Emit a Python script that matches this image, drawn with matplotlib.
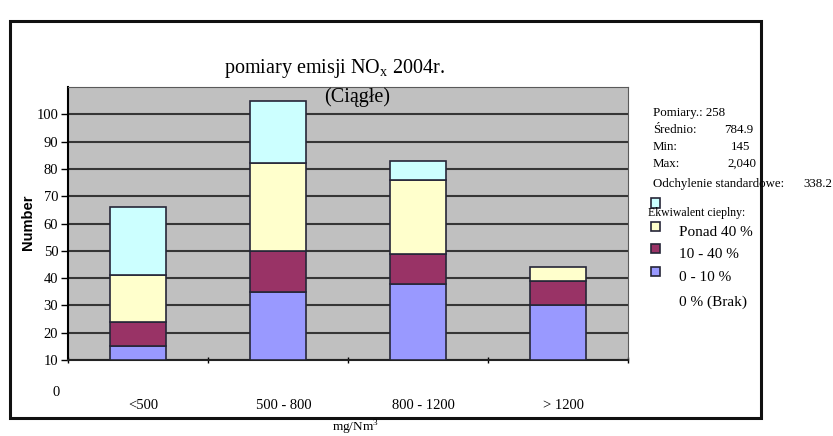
import matplotlib
matplotlib.use("Agg")
import matplotlib.pyplot as plt
from matplotlib.patches import Rectangle
import numpy as np

plt.rcParams['font.family'] = ['Liberation Serif', 'DejaVu Serif']
plt.rcParams['mathtext.fontset'] = 'custom'
plt.rcParams['mathtext.rm'] = 'Liberation Serif'

# NOx measurement classes and counts per heat-equivalent band
categories = ['<500', '500 - 800', '800 - 1200', '> 1200']
band_0_10 = [5, 25, 28, 20]
band_10_40 = [9, 15, 11, 9]
band_over_40 = [17, 32, 27, 5]
band_none = [25, 23, 7, 0]

y_ticks = [10, 20, 30, 40, 50, 60, 70, 80, 90, 100]
y_base = 10

stats_labels = ['Pomiary.: 258', 'Średnio:', 'Min:', 'Max:', 'Odchylenie standardowe:']
stats_values = ['', '784.9', '145', '2,040', '338.2']
legend_labels = ['Ekwiwalent cieplny:', 'Ponad 40 %', '10 - 40 %', '0 - 10 %', '0 % (Brak)']

colors = ['#9999FF', '#993366', '#FFFFCC', '#CCFFFF']
edge = '#262638'

W, H = 833, 436
fig = plt.figure(figsize=(W / 100, H / 100), dpi=100)


def fx(px):
    return px / W


def fy(py):
    return 1 - py / H


# outer chart frame
fig.patches.append(Rectangle((fx(10), fy(418)), fx(751), (418 - 21) / H,
                             transform=fig.transFigure, fill=False,
                             edgecolor='#111111', linewidth=2.2, zorder=0))

ax = fig.add_axes([fx(68), fy(360), fx(628 - 68), (360 - 87) / H])
ax.set_facecolor('#C0C0C0')

x = np.arange(len(categories))
series = [band_0_10, band_10_40, band_over_40, band_none]
bottom = np.full(len(categories), y_base, dtype=float)
for vals, col in zip(series, colors):
    vals = np.array(vals, dtype=float)
    mask = vals > 0
    ax.bar(x[mask], vals[mask], width=0.4, bottom=bottom[mask], color=col,
           edgecolor=edge, linewidth=1.2, zorder=3)
    bottom += vals

ax.set_xlim(-0.5, len(categories) - 0.5)
ax.set_ylim(y_base, 110)
ax.set_yticks(y_ticks)
ax.set_yticklabels([str(t) for t in y_ticks], fontsize=10.5)
ax.yaxis.grid(True, color='#363636', linewidth=1.5, zorder=1)
ax.set_axisbelow(True)

# category labels centred, boundary tick marks
ax.set_xticks(x + 0.04)
ax.set_xticklabels(categories, fontsize=10.5)
ax.tick_params(axis='x', which='major', length=0, pad=28)
ax.set_xticks(np.arange(len(categories) + 1) - 0.5, minor=True)
ax.tick_params(axis='x', which='minor', length=5, direction='inout', width=1)
ax.tick_params(axis='y', length=5, direction='out', width=1, pad=2)

for side in ['top', 'right']:
    ax.spines[side].set_color('#5a5a5a')
ax.spines['left'].set_color('black')
ax.spines['left'].set_linewidth(1.5)
ax.spines['bottom'].set_color('#222222')
ax.spines['bottom'].set_linewidth(1.5)

ax.text(-0.014, -0.118, '0', transform=ax.transAxes, ha='right', va='center',
        fontsize=10.5)

fig.text(fx(28), fy(222), 'Number', rotation=90, ha='center', va='center',
         fontsize=10.5, fontweight='bold', family=['Liberation Sans'])
fig.text(fx(355), fy(428), 'mg/Nm$^3$', ha='center', va='center', fontsize=9.5)

fig.text(fx(334), fy(68), 'pomiary emisji NO$_{\\mathrm{x}}$ 2004r.', ha='center',
         va='center', fontsize=14.5)
fig.text(fx(357), fy(97), '(Ciągłe)', ha='center', va='center', fontsize=14.5,
         zorder=10)

# summary statistics block
stat_y = [113, 130, 147, 164, 184]
for lab, val, yy in zip(stats_labels, stats_values, stat_y):
    fig.text(fx(653), fy(yy), lab, ha='left', va='center', fontsize=9.3)
for val, yy, xr in zip(stats_values[1:4], stat_y[1:4], [753, 750, 756]):
    fig.text(fx(xr), fy(yy), val, ha='right', va='center', fontsize=9.3)
fig.text(fx(803), fy(stat_y[4]), stats_values[4], ha='left', va='center',
         fontsize=9.3)

# legend swatches and labels
sw_y = [203, 227, 249, 272]
for col, yy in zip(colors[::-1], sw_y):
    fig.patches.append(Rectangle((fx(651), fy(yy + 4.5)), fx(9), 9 / H,
                                 transform=fig.transFigure, facecolor=col,
                                 edgecolor=edge, linewidth=1.2))
fig.text(fx(648), fy(213), legend_labels[0], ha='left', va='center',
         fontsize=8.5)
for lab, yy in zip(legend_labels[1:], [232, 254, 277, 302]):
    fig.text(fx(679), fy(yy), lab, ha='left', va='center', fontsize=11)

fig.savefig('out.png', dpi=100)
